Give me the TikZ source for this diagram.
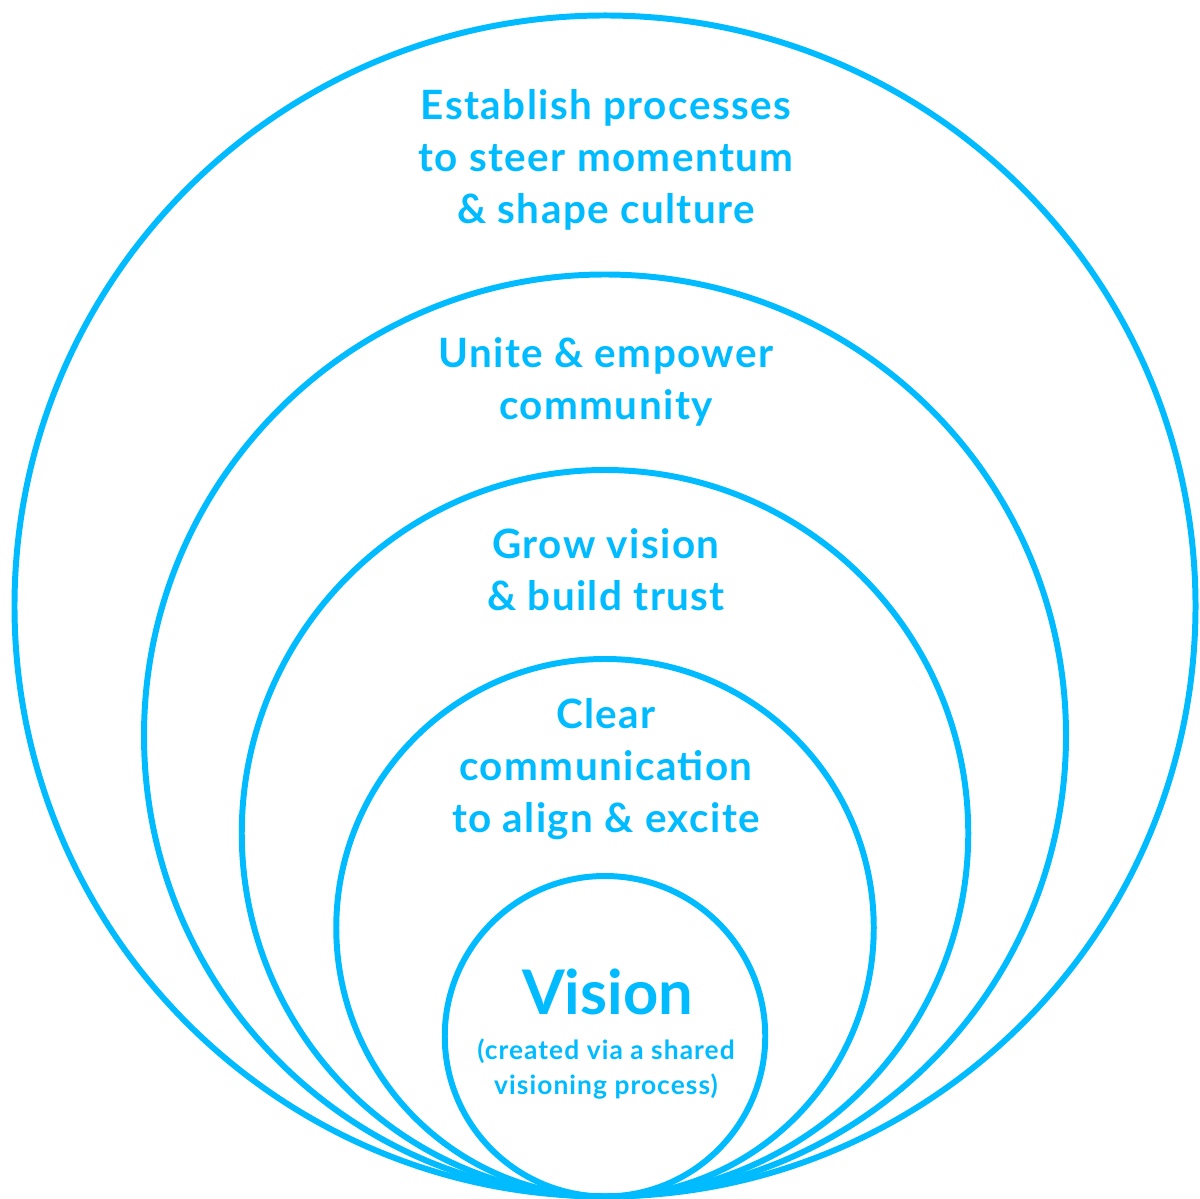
\documentclass[tikz,border=0pt]{standalone}
\usepackage{fontspec}
\setmainfont{Lato}
\usetikzlibrary{positioning}
\definecolor{ringcyan}{RGB}{0,187,255}

\begin{document}
\begin{tikzpicture}[
    ring/.style={circle, draw=ringcyan, line width=3.4pt, inner sep=0pt},
    caption/.style={text=ringcyan, align=center, font=\bfseries\fontsize{23}{29.6}\selectfont\addfontfeatures{LetterSpace=3.5}},
    small/.style={text=ringcyan, align=center, font=\bfseries\fontsize{15}{19.4}\selectfont\addfontfeatures{LetterSpace=4}}
]
    \useasboundingbox (0,0) rectangle (24,23.96);

    % Nested rings, all touching at the bottom
    \node[ring, minimum size=23.62cm] (process) at (12.1,11.84) {};
    \node[ring, minimum size=18.44cm] (community) at (12.1,9.25) {};
    \node[ring, minimum size=14.53cm] (trust) at (12.1,7.295) {};
    \node[ring, minimum size=10.75cm] (comms) at (12.1,5.405) {};
    \node[ring, minimum size=6.41cm] (vision) at (12.1,3.235) {};

    % Labels
    \node[caption] (processtext) at (12.12,20.76) {Establish processes\\to steer momentum\\\& shape culture};
    \node[caption] (communitytext) at (12.12,16.32) {Unite \& empower\\community};
    \node[caption] (trusttext) at (12.12,12.56) {Grow vision\\\& build trust};
    \node[caption] (commstext) at (12.12,8.58) {Clear\\communication\\to align \& excite};
    \node[caption, font=\bfseries\fontsize{35}{40}\selectfont] (visiontext) at (12.15,4.12) {Vision};
    \node[small] (visionsub) at (12.12,2.58) {(created via a shared\\visioning process)};
\end{tikzpicture}
\end{document}
